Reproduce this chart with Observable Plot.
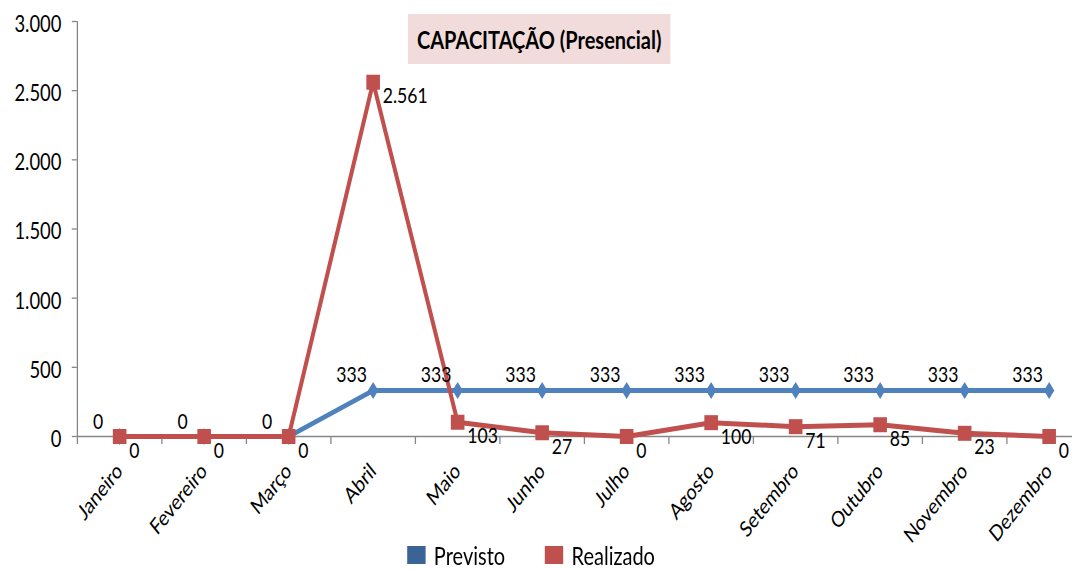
<!DOCTYPE html>
<html><head><meta charset="utf-8">
<script src="https://cdn.jsdelivr.net/npm/d3@7"></script>
<script src="https://cdn.jsdelivr.net/npm/@observablehq/plot@0.6"></script>
<style>
html,body{margin:0;padding:0;background:#fff;overflow:hidden;width:1072px;height:570px;}
#wrap{position:relative;width:1340px;height:570px;font-family:Lato,"DejaVu Sans Condensed",sans-serif;color:#000;transform:scaleX(0.8);transform-origin:0 0;}
#chart{position:absolute;left:0;top:0;}
#title{position:absolute;left:510px;top:14px;width:328px;height:50px;background:#f2dcdb;font-weight:bold;font-size:25px;display:flex;align-items:center;justify-content:center;white-space:nowrap;}
#legend{position:absolute;left:-6px;top:540px;width:1340px;height:30px;display:flex;justify-content:center;align-items:center;font-size:25px;}
.item{display:flex;align-items:center;margin:0 25px;}
.sw{width:23px;height:18px;margin-right:10px;}
</style></head>
<body><div id="wrap"><div id="chart"></div><div id="title">CAPACITAÇÃO (Presencial)</div><div id="legend"></div></div>
<script>
const months = ["Janeiro","Fevereiro","Março","Abril","Maio","Junho","Julho","Agosto","Setembro","Outubro","Novembro","Dezembro"];
const previsto = [0,0,0,333,333,333,333,333,333,333,333,333];
const realizado = [0,0,0,2561,103,27,0,100,71,85,23,0];
const yTicks = [0,500,1000,1500,2000,2500,3000];
const seriesNames = ["Previsto","Realizado"];
const seriesColors = ["#4f81bd","#c0504d"];
const legendColors = ["#3a6396","#c0504d"];

const FONT = 'Lato,"DejaVu Sans Condensed",sans-serif';
const fmt = d3.formatLocale({decimal:",",thousands:".",grouping:[3],currency:["R$",""]}).format(",d");
const prevData = months.map((m,i)=>({i, m, v: previsto[i]}));
const realData = months.map((m,i)=>({i, m, v: realizado[i]}));
const bounds = d3.range(months.length+1).map(k=>k-0.5);

// marker shapes (drawn before the page's horizontal 0.8 squeeze)
const diamondSym = {draw(ctx){ const w=6.5, h=8.5; ctx.moveTo(0,-h); ctx.lineTo(w,0); ctx.lineTo(0,h); ctx.lineTo(-w,0); ctx.closePath(); }};
const squareSym = {draw(ctx){ const w=8.5, h=7.5; ctx.moveTo(-w,-h); ctx.lineTo(w,-h); ctx.lineTo(w,h); ctx.lineTo(-w,h); ctx.closePath(); }};

const chart = Plot.plot({
  width:1340, height:570,
  marginTop:21, marginBottom:134, marginLeft:96, marginRight:0,
  style:{fontFamily:FONT, fontSize:"22px", color:"#000", background:"#fff"},
  x:{type:"linear", domain:[-0.5, months.length-0.5], range:[96.25,1363.75]},
  y:{domain:[0,3000], range:[436,21]},
  marks:[
    Plot.ruleY([0], {stroke:"#868686", strokeWidth:1.3}),
    Plot.ruleX([-0.5], {y1:0, y2:3000, stroke:"#868686", strokeWidth:1.6}),
    Plot.axisY({ticks:yTicks, tickSize:6.25, tickFormat:()=>"", stroke:"#868686", strokeWidth:1.3, label:null}),
    Plot.axisY({ticks:yTicks, tickFormat:fmt, tickSize:0, tickPadding:19.75, fill:"#000", label:null, fontSize:23, dy:3}),
    Plot.axisX({ticks:bounds, tickSize:8, tickFormat:()=>"", stroke:"#868686", strokeWidth:1.6, label:null}),
    Plot.axisX({ticks:d3.range(months.length), tickSize:0, tickPadding:31, tickRotate:-45, tickFormat:i=>months[i], label:null, fontSize:22, fill:"#000", dx:0}),
    Plot.line(prevData, {x:"i", y:"v", stroke:seriesColors[0], strokeWidth:5}),
    Plot.dot(prevData, {x:"i", y:"v", symbol:diamondSym, r:8, fill:seriesColors[0], stroke:"none"}),
    Plot.line(realData, {x:"i", y:"v", stroke:seriesColors[1], strokeWidth:5}),
    Plot.dot(realData, {x:"i", y:"v", symbol:squareSym, r:8, fill:seriesColors[1], stroke:"none"}),
    Plot.text(prevData, {x:"i", y:"v", text:d=>fmt(d.v), dx:-27, dy:-15, fontSize:22, fill:"#000"}),
    Plot.text(realData, {x:"i", y:"v", text:d=>fmt(d.v), dx:12, dy:14, textAnchor:"start", fontSize:22, fill:"#000"})
  ]
});
document.getElementById("chart").appendChild(chart);

const legend = document.getElementById("legend");
seriesNames.forEach((name,k)=>{
  const it = document.createElement("div"); it.className="item";
  const sw = document.createElement("div"); sw.className="sw"; sw.style.background=legendColors[k];
  const tx = document.createElement("span"); tx.textContent=name;
  it.appendChild(sw); it.appendChild(tx); legend.appendChild(it);
});
</script>
</body></html>
